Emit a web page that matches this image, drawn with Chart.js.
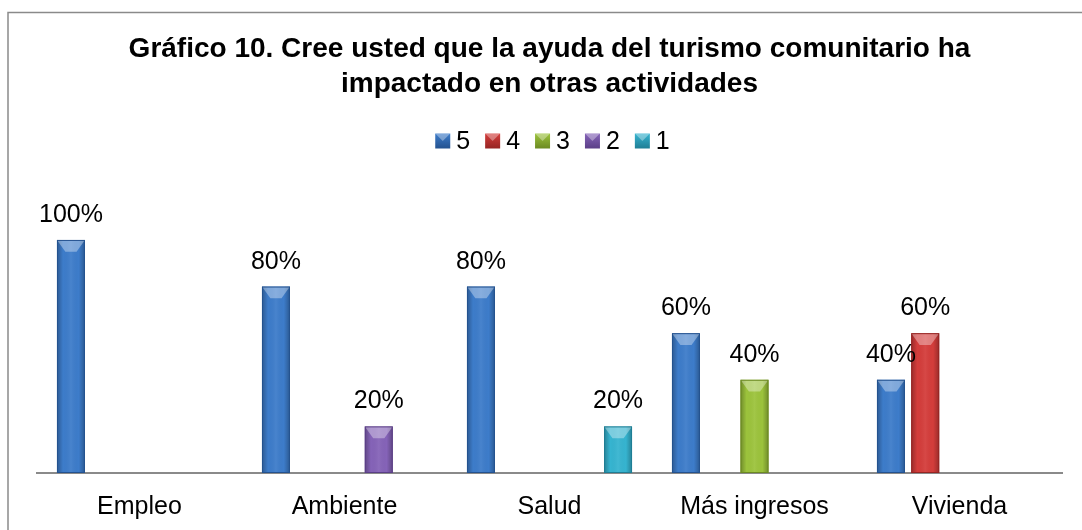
<!DOCTYPE html>
<html>
<head>
<meta charset="utf-8">
<script src="https://cdn.jsdelivr.net/npm/chart.js@4"></script>
<style>
  html, body { margin: 0; padding: 0; background: #fff; }
  #wrap { position: relative; width: 1082px; height: 530px; }
</style>
</head>
<body>
<div id="wrap"><canvas id="grafico" width="1082" height="530"></canvas></div>
<script>
// Datos del gráfico (porcentajes)
const categorias = ['Empleo', 'Ambiente', 'Salud', 'Más ingresos', 'Vivienda'];
const nombresSeries = ['5', '4', '3', '2', '1'];
const serie5 = [100, 80, 80, 60, 40];
const serie4 = [null, null, null, null, 60];
const serie3 = [null, null, null, 40, null];
const serie2 = [null, 20, null, null, null];
const serie1 = [null, null, 20, null, null];

const colores = ['#3d7cca', '#d43d3b', '#9cc33c', '#8563b8', '#36b4d0'];
const bordes = ['#24528f', '#962523', '#6c8a22', '#5b3f87', '#1f7e95'];
const fuente = "'Liberation Sans', Arial, sans-serif";

// Marco gris del gráfico (arriba e izquierda)
const marco = {
    id: 'marco',
    beforeDraw(chart) {
        const c = chart.ctx;
        c.save();
        c.strokeStyle = '#8a8a8a';
        c.lineWidth = 1.5;
        c.beginPath();
        c.moveTo(8, 530);
        c.lineTo(8, 12.5);
        c.lineTo(1082, 12.5);
        c.stroke();
        c.restore();
    }
};

// Efecto biselado de las barras + etiquetas de datos
const biselEtiquetas = {
    id: 'biselEtiquetas',
    afterDatasetsDraw(chart) {
        const c = chart.ctx;
        c.save();
        chart.data.datasets.forEach((ds, i) => {
            const meta = chart.getDatasetMeta(i);
            meta.data.forEach((bar, j) => {
                const v = ds.data[j];
                if (v === null || v === undefined) return;
                const p = bar.getProps(['x', 'y', 'base', 'width'], true);
                const l = p.x - p.width / 2, r = p.x + p.width / 2;
                const g = c.createLinearGradient(l, 0, r, 0);
                g.addColorStop(0, 'rgba(0,0,0,0.28)');
                g.addColorStop(0.22, 'rgba(0,0,0,0)');
                g.addColorStop(0.5, 'rgba(255,255,255,0.06)');
                g.addColorStop(0.78, 'rgba(0,0,0,0)');
                g.addColorStop(1, 'rgba(0,0,0,0.28)');
                c.fillStyle = g;
                c.fillRect(l, p.y, p.width, p.base - p.y);
                // triángulo claro superior
                const d = p.width * 0.42;
                c.fillStyle = 'rgba(255,255,255,0.35)';
                c.beginPath();
                c.moveTo(l, p.y);
                c.lineTo(r, p.y);
                c.lineTo(r - p.width * 0.3, p.y + d);
                c.lineTo(l + p.width * 0.3, p.y + d);
                c.closePath();
                c.fill();
                c.strokeStyle = bordes[i];
                c.lineWidth = 1;
                c.strokeRect(l + 0.5, p.y + 0.5, p.width - 1, p.base - p.y - 1);
            });
        });
        // etiquetas
        c.fillStyle = '#000';
        c.font = '25px ' + fuente;
        c.textAlign = 'center';
        c.textBaseline = 'alphabetic';
        chart.data.datasets.forEach((ds, i) => {
            const meta = chart.getDatasetMeta(i);
            meta.data.forEach((bar, j) => {
                const v = ds.data[j];
                if (v === null || v === undefined) return;
                c.fillText(v + '%', bar.x, bar.y - 18);
            });
        });
        c.restore();
    }
};

// Leyenda centrada sobre el área de trazado
const leyenda = {
    id: 'leyenda',
    afterDraw(chart) {
        const c = chart.ctx;
        const area = chart.chartArea;
        c.save();
        c.font = '25px ' + fuente;
        c.textBaseline = 'middle';
        c.textAlign = 'left';
        const caja = 15, hueco = 6, sep = 15;
        const anchos = nombresSeries.map(n => caja + hueco + c.measureText(n).width);
        const total = anchos.reduce((a, b) => a + b, 0) + sep * (anchos.length - 1);
        let x = (area.left + area.right) / 2 - total / 2 + 3;
        const y = 141;
        nombresSeries.forEach((n, i) => {
            const g = c.createLinearGradient(0, y - caja / 2, 0, y + caja / 2);
            g.addColorStop(0, colores[i]);
            g.addColorStop(1, bordes[i]);
            c.fillStyle = g;
            c.fillRect(x, y - caja / 2, caja, caja);
            c.fillStyle = 'rgba(255,255,255,0.35)';
            c.beginPath();
            c.moveTo(x, y - caja / 2);
            c.lineTo(x + caja, y - caja / 2);
            c.lineTo(x + caja / 2, y);
            c.closePath();
            c.fill();
            c.fillStyle = '#000';
            c.fillText(n, x + caja + hueco, y + 1);
            x += anchos[i] + sep;
        });
        c.restore();
    }
};

const series = [serie5, serie4, serie3, serie2, serie1];

new Chart(document.getElementById('grafico'), {
    type: 'bar',
    data: {
        labels: categorias,
        datasets: series.map((s, i) => ({
            label: nombresSeries[i],
            data: s,
            backgroundColor: colores[i],
            borderWidth: 0,
            categoryPercentage: 0.836,
            barPercentage: 0.816
        }))
    },
    options: {
        responsive: false,
        animation: false,
        devicePixelRatio: 1,
        layout: { padding: { left: 37, right: 20, top: 0, bottom: 0 } },
        plugins: {
            legend: { display: false },
            tooltip: { enabled: false },
            title: {
                display: true,
                text: ['Gráfico 10. Cree usted que la ayuda del turismo comunitario ha',
                       'impactado en otras actividades'],
                color: '#000',
                font: { family: fuente, size: 28, weight: 'bold', lineHeight: 1.25 },
                padding: { top: 32, bottom: 68 }
            }
        },
        scales: {
            x: {
                grid: { display: false },
                border: { display: true, color: '#8a8a8a', width: 2 },
                ticks: { color: '#000', font: { family: fuente, size: 25 }, padding: 11 },
                afterFit(scale) { scale.height = 57; }
            },
            y: {
                display: false,
                min: 0,
                max: 130
            }
        }
    },
    plugins: [marco, biselEtiquetas, leyenda]
});
</script>
</body>
</html>
